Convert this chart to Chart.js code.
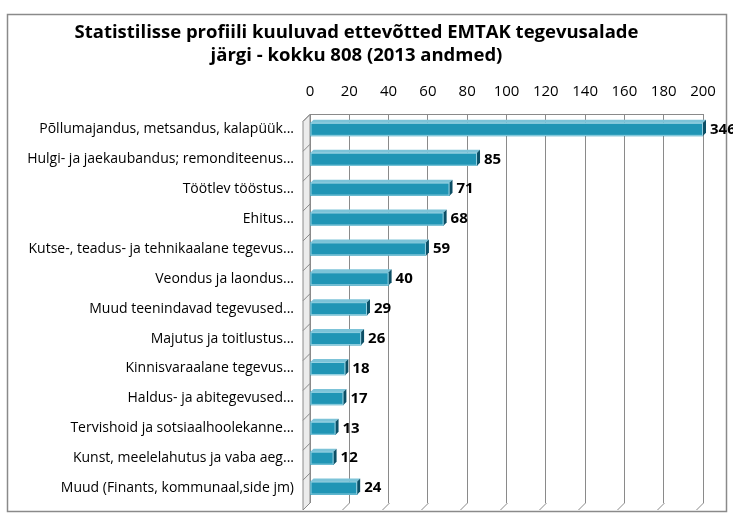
<!DOCTYPE html>
<html>
<head>
<meta charset="utf-8">
<script src="https://cdn.jsdelivr.net/npm/chart.js@4"></script>
<style>
  body { margin: 0; background: #fff; }
</style>
</head>
<body>
<canvas id="barChart" width="733" height="522"></canvas>
<script>
// EMTAK tegevusalad, 2013
const categories = [
    'Põllumajandus, metsandus, kalapüük...',
    'Hulgi- ja jaekaubandus; remonditeenus...',
    'Töötlev tööstus...',
    'Ehitus...',
    'Kutse-, teadus- ja tehnikaalane tegevus...',
    'Veondus ja laondus...',
    'Muud teenindavad tegevused...',
    'Majutus ja toitlustus...',
    'Kinnisvaraalane tegevus...',
    'Haldus- ja abitegevused...',
    'Tervishoid ja sotsiaalhoolekanne...',
    'Kunst, meelelahutus ja vaba aeg...',
    'Muud (Finants, kommunaal,side jm)'
];
const counts = [346, 85, 71, 68, 59, 40, 29, 26, 18, 17, 13, 12, 24];
const axisMin = 0;
const axisMax = 200;
const axisStep = 20;
const titleLines = [
    'Statistilisse profiili kuuluvad ettevõtted EMTAK tegevusalade',
    'järgi - kokku 808 (2013 andmed)'
];

const FONT = '"Open Sans", Lato, sans-serif';

// outer frame like the office chart border
const framePlugin = {
    id: 'frame',
    beforeDraw(chart) {
        const ctx = chart.ctx;
        ctx.save();
        ctx.fillStyle = '#fff';
        ctx.fillRect(0, 0, chart.width, chart.height);
        ctx.strokeStyle = '#8a8a8a';
        ctx.lineWidth = 1.5;
        ctx.strokeRect(7.5, 14.5, 719, 497);
        ctx.restore();
    }
};

// left wall + floor slants of the pseudo 3d grid
const wallPlugin = {
    id: 'wall',
    beforeDatasetsDraw(chart) {
        const { ctx, chartArea: a, scales } = chart;
        const d = 7;
        ctx.save();
        ctx.strokeStyle = '#8a8a8a';
        ctx.lineWidth = 1;
        ctx.fillStyle = '#ececec';
        ctx.beginPath();
        ctx.moveTo(a.left, a.top);
        ctx.lineTo(a.left - d, a.top + d);
        ctx.lineTo(a.left - d, a.bottom + d);
        ctx.lineTo(a.left, a.bottom);
        ctx.closePath();
        ctx.fill();
        ctx.stroke();
        // category separators on the wall
        const y = scales.y;
        for (let i = 0; i <= categories.length; i++) {
            const yy = i === 0 ? a.top : (i === categories.length ? a.bottom : (y.getPixelForTick(i - 1) + y.getPixelForTick(i)) / 2);
            ctx.beginPath();
            ctx.moveTo(a.left, yy);
            ctx.lineTo(a.left - d, yy + d);
            ctx.stroke();
        }
        // floor slants
        const x = scales.x;
        for (let v = axisMin + axisStep; v <= axisMax; v += axisStep) {
            const xx = Math.round(x.getPixelForValue(v)) + 0.5;
            ctx.beginPath();
            ctx.moveTo(xx, a.bottom);
            ctx.lineTo(xx - d, a.bottom + d);
            ctx.stroke();
        }
        ctx.restore();
    }
};

// end caps, highlight and value labels
const barDecorPlugin = {
    id: 'barDecor',
    afterDatasetsDraw(chart) {
        const { ctx, chartArea: a } = chart;
        const meta = chart.getDatasetMeta(0);
        ctx.save();
        meta.data.forEach((bar, i) => {
            const end = Math.min(bar.x, a.right);
            const h = bar.height;
            const top = bar.y - h / 2;
            const bottom = bar.y + h / 2;
            // top face
            ctx.fillStyle = '#7cc3d8';
            ctx.beginPath();
            ctx.moveTo(bar.base, top);
            ctx.lineTo(bar.base + 3, top - 3);
            ctx.lineTo(end + 3, top - 3);
            ctx.lineTo(end, top);
            ctx.closePath();
            ctx.fill();
            // end face
            ctx.fillStyle = '#0c4f66';
            ctx.beginPath();
            ctx.moveTo(end, top);
            ctx.lineTo(end + 3, top - 3);
            ctx.lineTo(end + 3, bottom - 3);
            ctx.lineTo(end, bottom);
            ctx.closePath();
            ctx.fill();
            // outline
            ctx.strokeStyle = 'rgba(200,235,245,0.7)';
            ctx.lineWidth = 1;
            ctx.strokeRect(bar.base + 0.5, top + 0.5, end - bar.base - 1, h - 1);
            // label
            ctx.fillStyle = '#000';
            ctx.font = 'bold 15px ' + FONT;
            ctx.textAlign = 'left';
            ctx.textBaseline = 'middle';
            ctx.fillText(String(counts[i]), end + 7, bar.y);
        });
        ctx.restore();
    }
};

const barCtx = document.getElementById('barChart').getContext('2d');
const barChart = new Chart(barCtx, {
    type: 'bar',
    data: {
        labels: categories,
        datasets: [{
            data: counts,
            backgroundColor: '#2095b5',
            borderWidth: 0,
            barThickness: 13
        }]
    },
    options: {
        indexAxis: 'y',
        responsive: false,
        animation: false,
        layout: {
            padding: { left: 10, right: 30, top: 0, bottom: 19 }
        },
        scales: {
            x: {
                position: 'top',
                min: axisMin,
                max: axisMax,
                ticks: {
                    stepSize: axisStep,
                    color: '#000',
                    font: { family: FONT, size: 15 },
                    padding: 14
                },
                grid: {
                    color: '#8a8a8a',
                    drawTicks: false
                },
                border: { display: true, color: '#8a8a8a' }
            },
            y: {
                ticks: {
                    color: '#000',
                    font: { family: FONT, size: 14 },
                    padding: 16,
                    autoSkip: false
                },
                grid: { display: false, drawTicks: false },
                border: { display: false },
                afterFit(scale) {
                    scale.width = 300;
                    // label padding should not eat vertical space
                    scale.paddingTop = 0;
                    scale.paddingBottom = 0;
                }
            }
        },
        plugins: {
            legend: { display: false },
            tooltip: { enabled: false },
            title: {
                display: true,
                text: titleLines,
                color: '#000',
                font: { family: FONT, size: 18.5, weight: 'bold', lineHeight: 1.2 },
                padding: { top: 22, bottom: 2 }
            }
        }
    },
    plugins: [framePlugin, wallPlugin, barDecorPlugin]
});
</script>
</body>
</html>
